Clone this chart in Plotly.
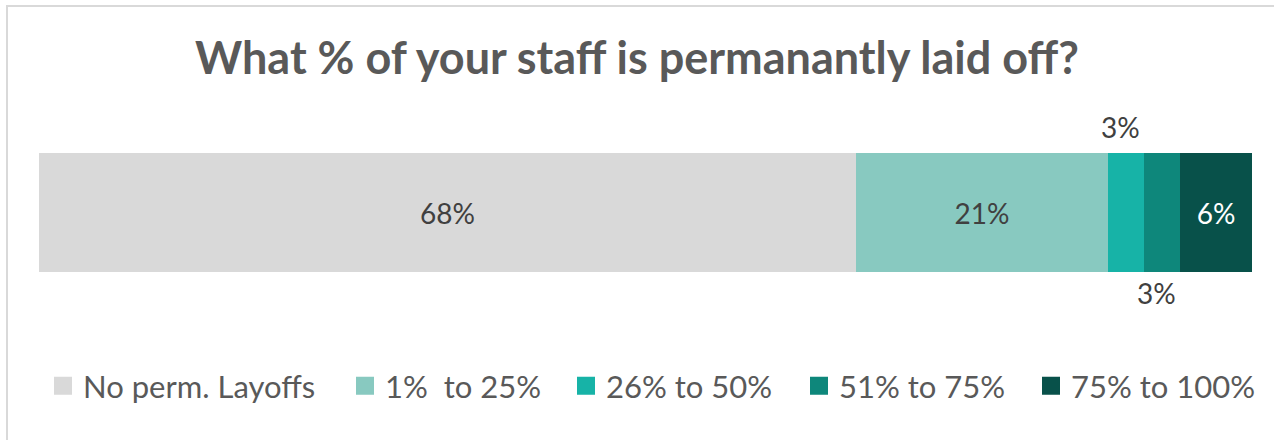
import plotly.graph_objects as go

# Survey breakdown: share of respondents by portion of staff permanently laid off
categories = ["No perm. Layoffs", "1%  to 25%", "26% to 50%", "51% to 75%", "75% to 100%"]
shares = [68, 21, 3, 3, 6]
colors = ["#D9D9D9", "#88C9C0", "#17B3A7", "#0E877B", "#08514A"]
label_colors = ["#404040", "#404040", "#404040", "#404040", "#FFFFFF"]
row = ["Staff"]

FONT = "Lato"
fig = go.Figure()

# stacked segments; small segments get their labels as annotations instead
for i, (name, val, col) in enumerate(zip(categories, shares, colors)):
    inside = val >= 5
    fig.add_trace(go.Bar(
        x=[val], y=row, orientation="h", name=name,
        marker=dict(color=col, line=dict(width=0)),
        text=[f"{val}%"] if inside else None,
        textposition="inside" if inside else "none",
        insidetextanchor="middle",
        textfont=dict(family=FONT, size=28, color=label_colors[i]),
        showlegend=False, hoverinfo="skip",
    ))

# legend entries (one legend each, so they can be spaced freely)
legend_x = [43, 345, 566, 799, 1031]
plot_left, plot_w = 39, 1274 - 39 - 22
for i, (name, col) in enumerate(zip(categories, colors)):
    key = "legend" if i == 0 else f"legend{i + 1}"
    fig.add_trace(go.Scatter(
        x=[None], y=[None], mode="markers", name=name,
        marker=dict(symbol="square", size=16, color=col, line=dict(color=col, width=2)),
        legend=key, showlegend=True, hoverinfo="skip",
    ))
    fig.layout[key] = dict(
        x=(legend_x[i] - plot_left) / plot_w, xanchor="left",
        y=-0.958, yanchor="middle", orientation="h",
        font=dict(family=FONT, size=31, color="#595959"),
        bgcolor="rgba(0,0,0,0)", itemsizing="trace",
    )

# labels for the narrow segments, placed above / below the bar
cum = 0
small_pos = []
for val in shares:
    small_pos.append(cum + val / 2)
    cum += val
fig.add_annotation(x=small_pos[2], y=row[0], text=f"{shares[2]}%", showarrow=False,
                   yshift=86, xshift=-5, font=dict(family=FONT, size=28, color="#404040"))
fig.add_annotation(x=small_pos[3], y=row[0], text=f"{shares[3]}%", showarrow=False,
                   yshift=-80, xshift=-5, font=dict(family=FONT, size=28, color="#404040"))

# chart border (top and left edges visible)
fig.add_shape(type="rect", xref="paper", yref="paper",
              xsizemode="pixel", ysizemode="pixel", xanchor=0, yanchor=1,
              x0=7 - plot_left, x1=1300 - plot_left, y0=153 - 6, y1=153 - 470,
              line=dict(color="#D9D9D9", width=2), layer="above")

fig.update_layout(
    width=1274, height=440,
    margin=dict(l=39, r=22, t=153, b=168, autoexpand=False),
    barmode="stack", bargap=0,
    paper_bgcolor="white", plot_bgcolor="white",
    title=dict(text="What % of your staff is permanantly laid off?",
               x=0.5, xanchor="center", y=1 - 58 / 440, yanchor="middle",
               yref="container",
               font=dict(family=FONT, size=45, color="#595959", weight="bold")),
    xaxis=dict(range=[0, sum(shares)], visible=False, fixedrange=True),
    yaxis=dict(type="category", range=[-0.5, 0.5], visible=False, fixedrange=True),
    uniformtext=dict(mode=False),
)

fig.write_html("out.html")
